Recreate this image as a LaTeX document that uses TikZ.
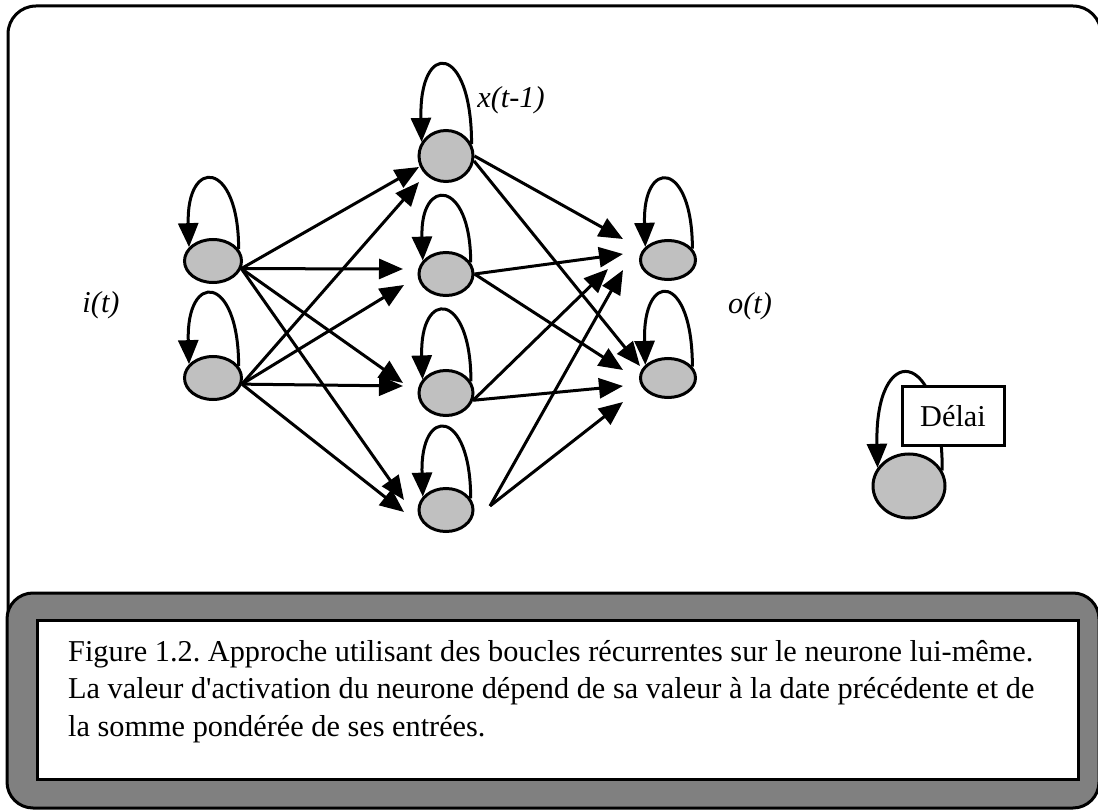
\documentclass[tikz,border=0pt]{standalone}
\usepackage{fontspec}
\setmainfont{Liberation Serif}
\usetikzlibrary{arrows.meta,shapes.geometric}

\definecolor{silver}{HTML}{C0C0C0}
\definecolor{boxgray}{HTML}{808080}

\newcommand{\diagfont}{\fontsize{30.3}{37.5}\selectfont}

\tikzset{
    neuron/.style={ellipse, draw=black, fill=silver, line width=3pt, inner sep=0pt},
    arr/.style={-{Triangle[length=24pt,width=20pt]}, line width=3pt},
}

% loop of a neuron onto itself: node, height of the loop
\newcommand{\selfloop}[2]{%
    \draw[arr] (#1.25) .. controls +(0,-#2) and +(-3,-#2) .. (#1.150);
}

\begin{document}
\frenchspacing
\begin{tikzpicture}[x=1pt, y=-1pt]
    \useasboundingbox (0,0) rectangle (1098,810);

    % Outer frame and caption box
    \draw[line width=3pt, rounded corners=28pt] (8,6) rectangle (1101,700);
    \filldraw[fill=boxgray, draw=black, line width=3pt, rounded corners=26pt] (7,593) rectangle (1099,808);
    \filldraw[fill=white, draw=black, line width=3pt] (37,620) rectangle (1078,779);

    % Neurons: input, hidden and output layers
    \node[neuron, minimum width=57pt, minimum height=43pt] (in1) at (213,261) {};
    \node[neuron, minimum width=57pt, minimum height=43pt] (in2) at (213,378) {};

    \node[neuron, minimum width=54pt, minimum height=51pt] (hid1) at (446,156) {};
    \node[neuron, minimum width=54pt, minimum height=43pt] (hid2) at (446,274) {};
    \node[neuron, minimum width=54pt, minimum height=45pt] (hid3) at (446,393) {};
    \node[neuron, minimum width=54pt, minimum height=43pt] (hid4) at (446,510) {};

    \node[neuron, minimum width=55pt, minimum height=39pt] (out1) at (668,260) {};
    \node[neuron, minimum width=55pt, minimum height=39pt] (out2) at (668,378) {};

    % Arrow tips in front of the neurons
    \coordinate (h1a) at (419,167);
    \coordinate (h1b) at (419,182);
    \coordinate (h2a) at (403,269);
    \coordinate (h2b) at (404,285);
    \coordinate (h3a) at (403,383);
    \coordinate (h3b) at (403,386);
    \coordinate (h4a) at (404,500);
    \coordinate (h4b) at (404,512);

    \coordinate (o1a) at (623,239);
    \coordinate (o1b) at (623,254);
    \coordinate (o1c) at (608,269);
    \coordinate (o1d) at (623,270);
    \coordinate (o2a) at (640,366);
    \coordinate (o2b) at (623,370);
    \coordinate (o2c) at (623,386);
    \coordinate (o2d) at (623,402);

    % the last hidden neuron sends from a little way off
    \coordinate (h4out) at (490,506);

    % Input to hidden
    \draw[arr] (in1.-15) -- (h1a);
    \draw[arr] (in1.-15) -- (h2a);
    \draw[arr] (in1.-15) -- (h3a);
    \draw[arr] (in1.-15) -- (h4a);
    \draw[arr] (in2.-12) -- (h1b);
    \draw[arr] (in2.-12) -- (h2b);
    \draw[arr] (in2.-12) -- (h3b);
    \draw[arr] (in2.-12) -- (h4b);

    % Hidden to output
    \draw[arr] (hid1.east) -- (o1a);
    \draw[arr] (hid1.-10) -- (o2a);
    \draw[arr] (hid2.east) -- (o1b);
    \draw[arr] (hid2.east) -- (o2b);
    \draw[arr] (hid3.-15) -- (o1c);
    \draw[arr] (hid3.-15) -- (o2c);
    \draw[arr] (h4out) -- (o1d);
    \draw[arr] (h4out) -- (o2d);

    % Recurrent loops
    \selfloop{in1}{90}
    \selfloop{in2}{93}
    \selfloop{hid1}{102}
    \selfloop{hid2}{84}
    \selfloop{hid3}{91}
    \selfloop{hid4}{91}
    \selfloop{out1}{89}
    \selfloop{out2}{95}

    % Labels
    \node[font=\diagfont\itshape] (lin) at (101,305) {i(t)};
    \node[font=\diagfont\itshape] (lout) at (750,306) {o(t)};
    \node[font=\diagfont\itshape] (lprev) at (511,100) {x(t-1)};

    % Delay unit
    \node[neuron, minimum width=72pt, minimum height=64pt] (del) at (909,486) {};
    \selfloop{del}{126}
    \node[draw=black, fill=white, line width=3pt, minimum width=102pt, minimum height=59pt, font=\diagfont] (delbox) at (953,416) {Délai};

    % Caption
    \node[anchor=north west, align=left, inner sep=0pt, font=\diagfont] (caption) at (68,640) {Figure 1.2. Approche utilisant des boucles récurrentes sur le neurone lui-même.\\La valeur d\textquotesingle activation du neurone dépend de sa valeur à la date précédente et de\\la somme pondérée de ses entrées.};

\end{tikzpicture}
\end{document}
